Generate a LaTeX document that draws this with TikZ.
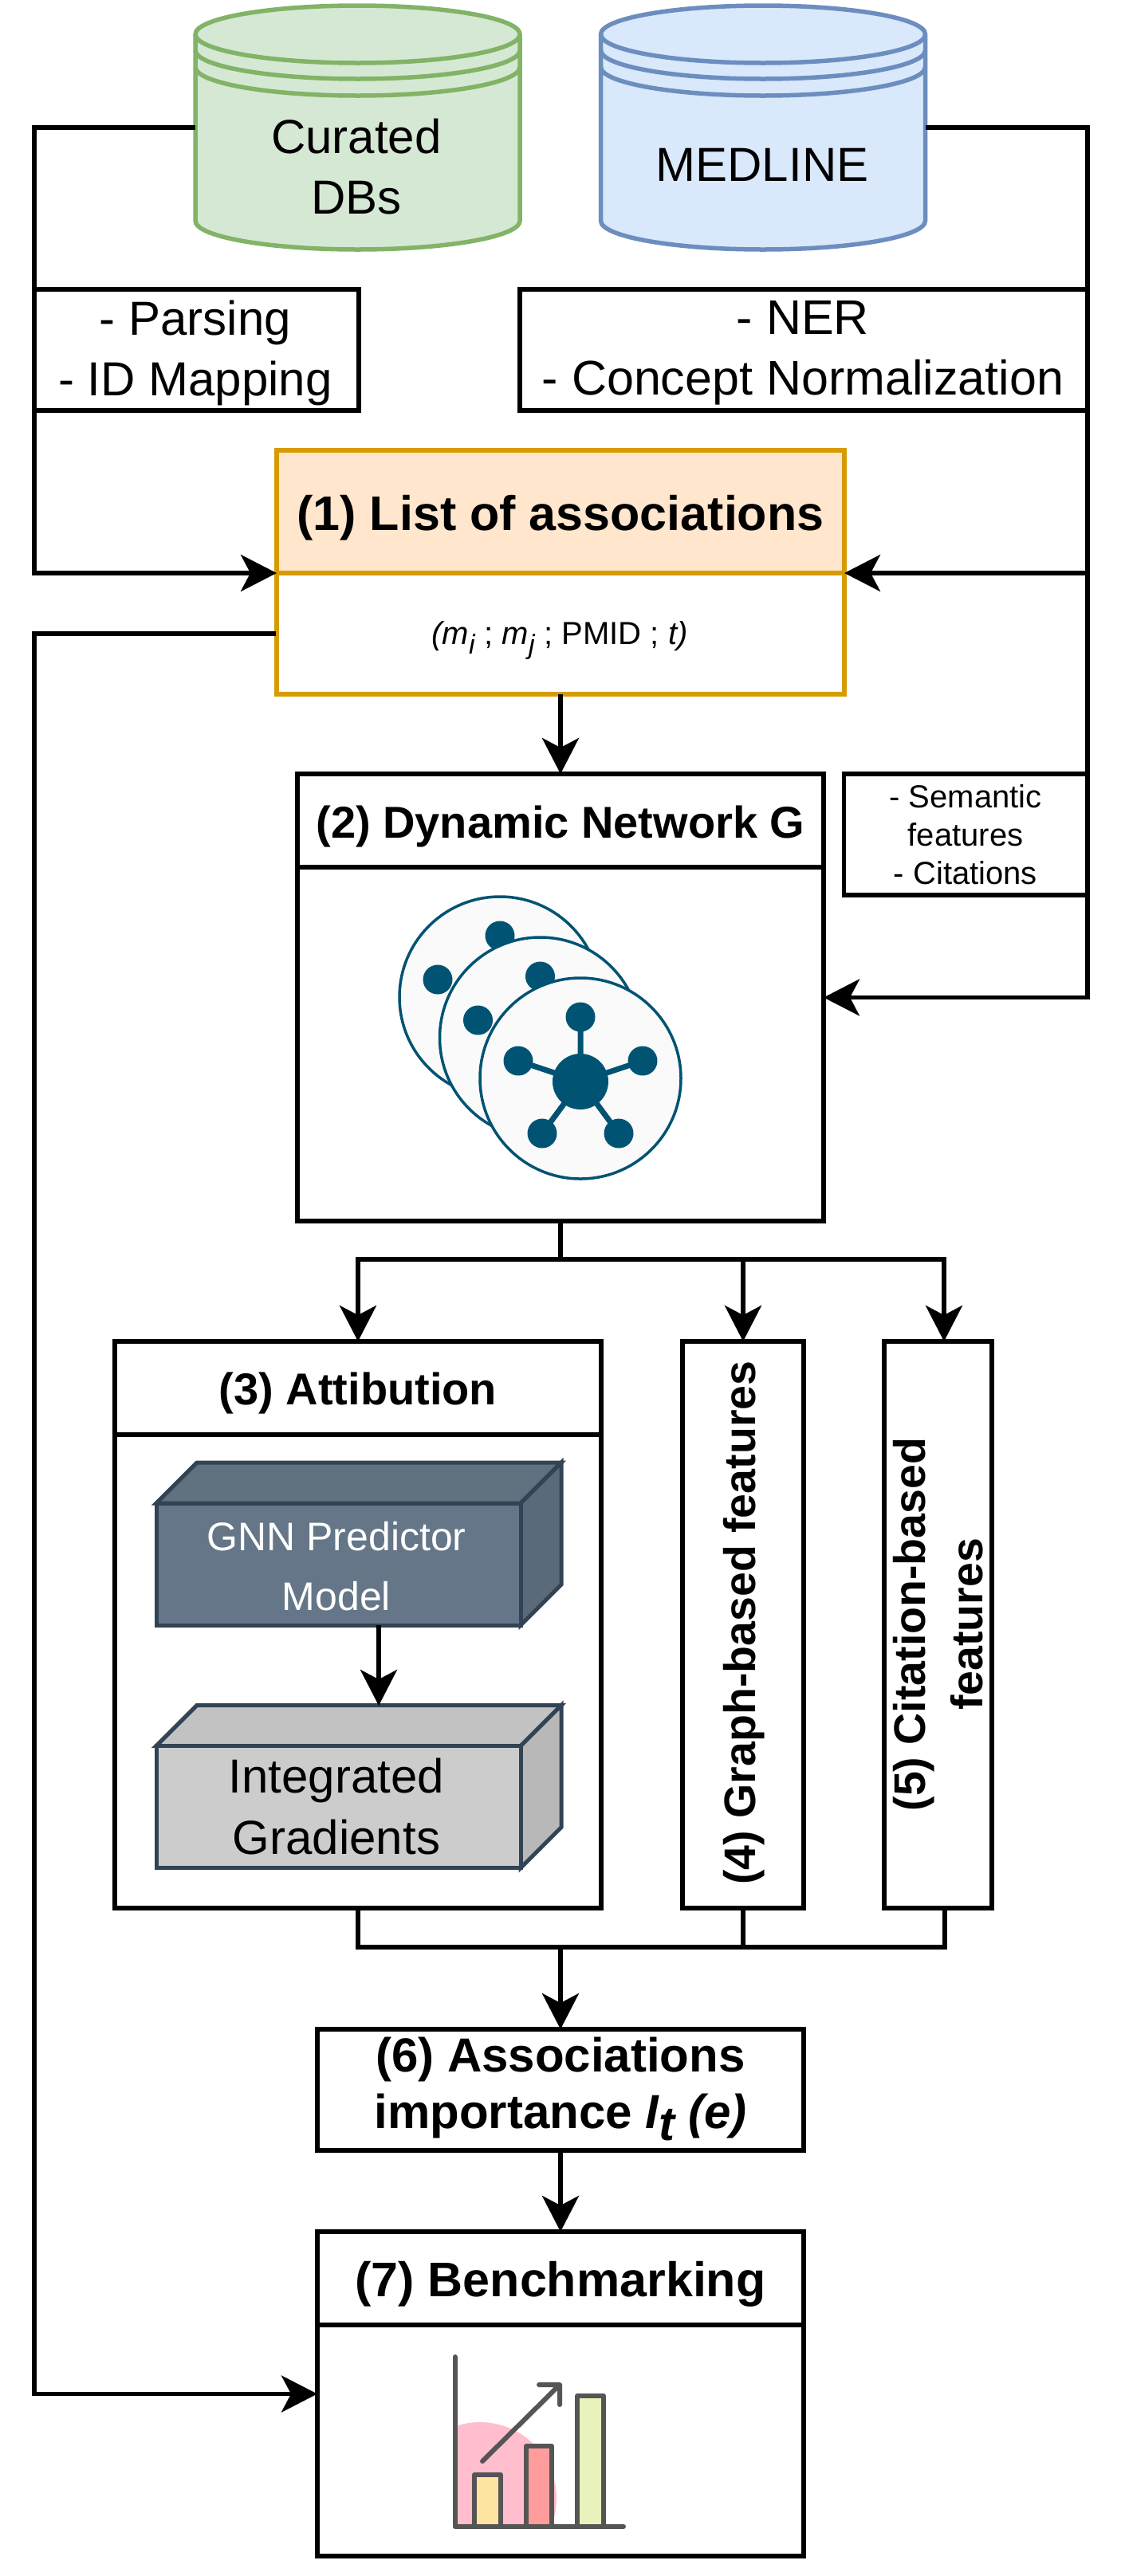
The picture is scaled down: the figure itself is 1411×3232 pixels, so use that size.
\documentclass[tikz,border=0pt]{standalone}
\usepackage{fontspec}
\setmainfont{Liberation Sans}
\usetikzlibrary{arrows.meta,calc}
\definecolor{gfill}{HTML}{D5E8D4}\definecolor{gline}{HTML}{82B366}
\definecolor{bfill}{HTML}{DAE8FC}\definecolor{bline}{HTML}{6C8EBF}
\definecolor{ofill}{HTML}{FFE6CC}\definecolor{oline}{HTML}{D79B00}
\definecolor{slateF}{HTML}{647687}\definecolor{slateS}{HTML}{5A6A7A}\definecolor{slateT}{HTML}{60717F}\definecolor{slateL}{HTML}{314354}
\definecolor{netc}{HTML}{015373}\definecolor{netf}{HTML}{FAFAFA}
\definecolor{ico}{HTML}{555555}
\definecolor{icopink}{HTML}{FFBDCD}\definecolor{icoy}{HTML}{FDE4A0}\definecolor{icor}{HTML}{FF9D9D}\definecolor{icog}{HTML}{E8F3BC}
\newcommand{\fsz}[1]{\fontsize{#1}{#1}\selectfont}
\newcommand{\dbshape}[3]{%
 \draw[line width=5.5pt,draw=#3,fill=#2] (#1-203.5,43) arc[start angle=180,end angle=360,x radius=203.5,y radius=36]
   -- (#1+203.5,277) arc[start angle=0,end angle=180,x radius=203.5,y radius=36] -- cycle;
 \draw[line width=5.5pt,draw=#3] (#1-203.5,43) arc[start angle=180,end angle=0,x radius=203.5,y radius=36];
 \draw[line width=5.5pt,draw=#3] (#1-203.5,63) arc[start angle=180,end angle=0,x radius=203.5,y radius=36];
 \draw[line width=5.5pt,draw=#3] (#1-203.5,84) arc[start angle=180,end angle=0,x radius=203.5,y radius=36];
}
\newcommand{\netw}[3]{%
 \begin{scope}[shift={(#1,#2)}]
 \fill[netf] (0,0) circle[radius=126];
 \draw[netc,line width=3.5pt] (0,0) circle[radius=126];
 \ifnum#3=1
 \draw[netc,line width=7pt] (0,4)--(0,-77) (0,4)--(-78,-22) (0,4)--(78,-22) (0,4)--(-48,69) (0,4)--(48,69);
 \fill[netc] (0,4) circle[radius=35];
 \fi
 \fill[netc] (0,-77) circle[radius=18.5] (-78,-22) circle[radius=18.5] (78,-22) circle[radius=18.5] (-48,69) circle[radius=18.5] (48,69) circle[radius=18.5];
 \end{scope}}
\tikzset{
 x=1pt,y=-1pt,
 box/.style={draw=black,line width=5.5pt,fill=white,inner sep=0pt,outer sep=0pt,align=center},
 lbl/.style={inner sep=0pt,outer sep=0pt,align=center},
 conn/.style={draw=black,line width=5.5pt},
 arr/.style={conn,-{Stealth[length=45pt,width=46pt,inset=12pt]}},
 ghost/.style={inner sep=0pt,outer sep=0pt},
 base/.style={text height=#1,text depth=0pt},
}
\begin{document}
\begin{tikzpicture}
\useasboundingbox (0,0) rectangle (1411,3232);
% databases
\dbshape{448.5}{gfill}{gline}
\dbshape{957}{bfill}{bline}
\node[ghost,minimum width=407pt,minimum height=306pt] (db1) at (448.5,160) {};
\node[ghost,minimum width=407pt,minimum height=306pt] (db2) at (957,160) {};
\node[lbl,font=\fontsize{60}{76}\selectfont] (db1t) at (447,209) {Curated\\DBs};
\node[lbl,font=\fsz{60}] (db2t) at (956,207) {MEDLINE};
% text boxes
\node[box,minimum width=407pt,minimum height=152pt] (parse) at (246.5,439) {};
\node[lbl,font=\fontsize{60}{76}\selectfont] (parset) at (245,443) {- Parsing\\- ID Mapping};
\node[box,minimum width=712pt,minimum height=152pt] (ner) at (1008,439) {};
\node[lbl,font=\fontsize{61}{76}\selectfont] (nert) at (1007,443) {- NER\\- Concept Normalization};
% list
\node[box,draw=oline,minimum width=712pt,minimum height=306pt] (list) at (703,718) {};
\node[box,draw=oline,fill=ofill,minimum width=712pt,minimum height=154pt,base=46pt,font=\bfseries\fsz{61}] (listhead) at (703,642) {(1) List of associations};
\node[lbl,minimum width=712pt,minimum height=152pt,base=26pt,font=\fsz{40}] (listsub) at (702,795) {\textit{(m}\raisebox{-.3em}{\textit{\fsz{34}i}} ; \textit{m}\raisebox{-.3em}{\textit{\fsz{34}j}} ; PMID ; \textit{t)}};
% dynamic network
\node[box,minimum width=660pt,minimum height=561pt] (dyn) at (703,1251.5) {};
\node[box,minimum width=660pt,minimum height=117pt,base=44pt,font=\bfseries\fsz{56}] (dynhead) at (703,1029.5) {(2) Dynamic Network G};
\node[box,minimum width=305pt,minimum height=152pt,font=\fontsize{40}{48}\selectfont] (sem) at (1211,1047) {- Semantic\\features\\- Citations};
\netw{627}{1251}{0}
\netw{677.5}{1302}{0}
\netw{728}{1353}{1}
% attribution
\node[box,minimum width=610pt,minimum height=711pt] (b3) at (449,2038.5) {};
\node[box,minimum width=610pt,minimum height=117pt,base=42pt,font=\bfseries\fsz{56}] (b3head) at (449,1741.5) {(3) Attibution};
\node[box,minimum width=152pt,minimum height=711pt] (b4) at (932,2038.5) {};
\node[lbl,rotate=90,font=\bfseries\fsz{55.5}] (b4t) at (933,2036) {(4) Graph-based features};
\node[box,minimum width=135pt,minimum height=711pt] (b5) at (1176.5,2038.5) {};
\node[lbl,rotate=90,font=\bfseries\fontsize{55.5}{72}\selectfont] (b5t) at (1177,2038) {(5) Citation-based\\features};
% 3D boxes
\node[ghost,minimum width=457pt,minimum height=153pt] (gnn) at (424.5,1962.5) {};
\node[ghost,minimum width=457pt,minimum height=153pt] (ig) at (424.5,2267) {};
\begin{scope}[line width=5pt,draw=slateL,line join=miter]
\filldraw[fill=slateT] (gnn.north west) -- ++(51,-51) -- ++(457,0) -- ++(-51,51) -- cycle;
\filldraw[fill=slateS] (gnn.north east) -- ++(51,-51) -- ++(0,153) -- ++(-51,51) -- cycle;
\filldraw[fill=slateF] (gnn.north west) rectangle (gnn.south east);
\filldraw[fill=black!24] (ig.north west) -- ++(51,-51) -- ++(457,0) -- ++(-51,51) -- cycle;
\filldraw[fill=black!28] (ig.north east) -- ++(51,-51) -- ++(0,153) -- ++(-51,51) -- cycle;
\filldraw[fill=black!20] (ig.north west) rectangle (ig.south east);
\end{scope}
\node[lbl,text=white,font=\fontsize{50}{75}\selectfont] (gnnt) at (422,1965) {GNN Predictor\\Model};
\node[lbl,font=\fontsize{60}{77}\selectfont] (igt) at (422,2267) {Integrated\\Gradients};
% importance
\node[box,minimum width=610pt,minimum height=152pt] (b6) at (703,2622) {};
\node[lbl,font=\bfseries\fontsize{60}{71}\selectfont] (b6t) at (703,2621) {(6) Associations\\importance \textit{I\raisebox{-.25em}{t} (e)}};
% benchmarking
\node[box,minimum width=610pt,minimum height=407pt] (b7) at (703,3003.5) {};
\node[box,minimum width=610pt,minimum height=117pt,base=45pt,font=\bfseries\fsz{61}] (b7head) at (703,2858.5) {(7) Benchmarking};
% chart icon
\begin{scope}
\clip (568,3000) rectangle (720,3170);
\fill[icopink] (602,3135) circle[radius=96];
\end{scope}
\begin{scope}[line width=6pt,draw=ico,line cap=round,line join=round]
\filldraw[fill=icoy] (595,3170) -- (595,3105) -- (628,3105) -- (628,3170);
\filldraw[fill=icor] (660,3170) -- (660,3069) -- (692,3069) -- (692,3170);
\filldraw[fill=icog] (724,3170) -- (724,3006) -- (757,3006) -- (757,3170);
\draw (570.5,2957) -- (570.5,3170) -- (782,3170);
\draw (605,3088) -- (702,2992) (676,2992) -- (702,2992) -- (702,3017);
\end{scope}
% connectors
\coordinate (lx) at (43,0);
\coordinate (rx) at (1364,0);
\draw[arr] (db1.west) -| (lx |- parse.north) -- (lx |- parse.south) |- (listhead.south west);
\draw[arr] (db2.east) -| (rx |- ner.north) -- (rx |- ner.south) |- (listhead.south east);
\draw[arr] (rx |- listhead.south) -- (rx |- sem.north) -- (rx |- sem.south) |- (dyn.east);
\draw[arr] (listsub.west) -| (lx |- b7.west) -- (b7.west);
\draw[arr] (list.south) -- (dynhead.north);
\coordinate (split) at (703,1580);
\coordinate (b5in) at (1184,1683);
\coordinate (b5out) at (1185,2394);
\coordinate (merge) at (703,2443);
\draw[conn] (dyn.south) -- (split);
\draw[arr] (split) -| (b3head.north);
\draw[arr] (split) -| (b4.north);
\draw[arr] (split) -| (b5in);
\draw[conn] (b3.south) |- (merge);
\draw[conn] (b4.south) |- (merge);
\draw[conn] (b5out) |- (merge);
\draw[arr] (merge) -- (b6.north);
\draw[arr] (b6.south) -- (b7head.north);
\coordinate (gout) at (475,2039);
\coordinate (gin) at (475,2140);
\draw[arr] (gout) -- (gin);
\end{tikzpicture}
\end{document}
